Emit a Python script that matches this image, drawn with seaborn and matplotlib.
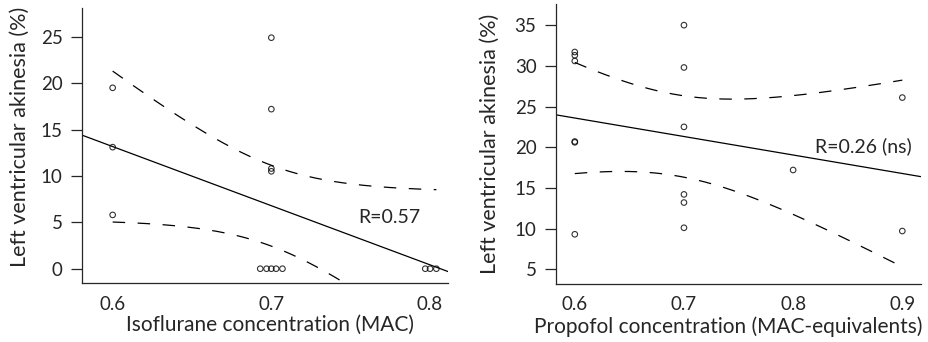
import numpy as np
import matplotlib
matplotlib.use("Agg")
import matplotlib.pyplot as plt
import seaborn as sns

# Isoflurane panel (x, incl. the small jitter of stacked zeros)
iso_x = [0.6, 0.6, 0.6, 0.7, 0.7, 0.7, 0.7,
         0.693, 0.697, 0.700, 0.703, 0.707, 0.797, 0.800, 0.804]
iso_y = [19.5, 13.1, 5.8, 24.9, 17.2, 10.8, 10.5,
         0, 0, 0, 0, 0, 0, 0, 0]
iso_ticks_x = [0.6, 0.7, 0.8]
iso_ticks_y = [0, 5, 10, 15, 20, 25]

# Propofol panel
prop_x = [0.6, 0.6, 0.6, 0.6, 0.6, 0.6,
          0.7, 0.7, 0.7, 0.7, 0.7, 0.7,
          0.8, 0.9, 0.9]
prop_y = [31.7, 31.3, 30.6, 20.7, 20.6, 9.3,
          35.0, 29.8, 22.5, 14.2, 13.2, 10.1,
          17.2, 26.1, 9.7]
prop_ticks_x = [0.6, 0.7, 0.8, 0.9]
prop_ticks_y = [5, 10, 15, 20, 25, 30, 35]

T95 = 2.1604  # t(0.975, df=13), both panels have n=15

sns.set_style("ticks")
plt.rcParams['font.family'] = ['Lato', 'DejaVu Sans']


def ci_band(x, y, xs):
    x = np.asarray(x, float)
    y = np.asarray(y, float)
    n = len(x)
    b, a = np.polyfit(x, y, 1)
    s = np.sqrt(np.sum((y - (a + b * x)) ** 2) / (n - 2))
    sxx = np.sum((x - x.mean()) ** 2)
    half = T95 * s * np.sqrt(1 / n + (xs - x.mean()) ** 2 / sxx)
    pred = a + b * xs
    return pred - half, pred + half


def panel(ax, x, y, xlim, ylim, xt, yt, xlabel, rtext, rpos, xlab_pos, ylab_pos):
    ax.set_xlim(*xlim)
    ax.set_ylim(*ylim)
    sns.regplot(x=x, y=y, ax=ax, ci=None, truncate=False, color='black',
                scatter_kws={'facecolors': 'none', 's': 16, 'linewidths': 0.8},
                line_kws={'lw': 0.9})
    xs = np.linspace(min(x), max(x), 200)
    lo, hi = ci_band(x, y, xs)
    ax.plot(xs, lo, color='black', lw=0.9, ls=(0, (10, 10)))
    ax.plot(xs, hi, color='black', lw=0.9, ls=(0, (10, 10)))
    ax.set_xlim(*xlim)
    ax.set_ylim(*ylim)
    ax.set_xticks(xt)
    ax.set_xticklabels([f"{v:.1f}" for v in xt])
    ax.set_yticks(yt)
    ax.tick_params(axis='x', length=0, pad=9, labelsize=13.5)
    ax.tick_params(axis='y', length=8, width=0.9, pad=6, labelsize=13.5)
    ax.set_xlabel(xlabel, fontsize=15)
    ax.set_ylabel("Left ventricular akinesia (%)", fontsize=15.5)
    ax.xaxis.set_label_coords(*xlab_pos)
    ax.yaxis.set_label_coords(*ylab_pos)
    ax.text(rpos[0], rpos[1], rtext, fontsize=14, ha='left', va='center')
    for sp in ['top', 'right']:
        ax.spines[sp].set_visible(False)
    for sp in ['left', 'bottom']:
        ax.spines[sp].set_linewidth(0.9)


fig = plt.figure(figsize=(9.29, 3.42), dpi=100)
ax1 = fig.add_axes([0.0883, 0.1725, 0.3939, 0.8041])
ax2 = fig.add_axes([0.5985, 0.1696, 0.3925, 0.8187])

panel(ax1, iso_x, iso_y, (0.5807, 0.8113), (-1.54, 28.1), iso_ticks_x, iso_ticks_y,
      "Isoflurane concentration (MAC)", "R=0.57", (0.7546, 5.57),
      (0.514, -0.116), (-0.142, 0.531))
panel(ax2, prop_x, prop_y, (0.5828, 0.9168), (3.19, 37.6), prop_ticks_x, prop_ticks_y,
      "Propofol concentration (MAC-equivalents)", "R=0.26 (ns)", (0.82, 20.07),
      (0.472, -0.114), (-0.154, 0.502))

fig.savefig("out.png", dpi=100)
